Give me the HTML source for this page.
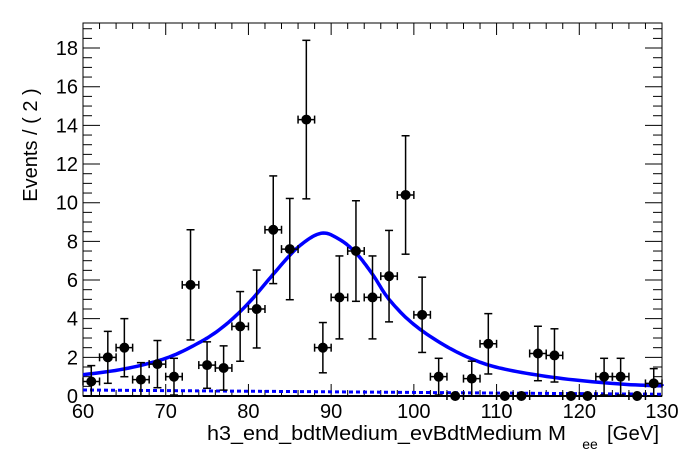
<!DOCTYPE html>
<html><head><meta charset="utf-8"><style>
html,body{margin:0;padding:0;background:#fff;}
svg{display:block;font-family:"Liberation Sans",Arial,sans-serif;}
</style></head><body>
<svg id="s" width="696" height="472" viewBox="0 0 696 472" xmlns="http://www.w3.org/2000/svg"></svg>
<script>
const s=document.getElementById('s');
const L=83,R=662,T=23,B=396;
const X=v=>L+(v-60)*(R-L)/70, Y=v=>B-v*19.33;
let h='';
h+=`<rect x="${L}" y="${T}" width="${R-L}" height="${B-T}" fill="none" stroke="#000" stroke-width="1"/>`;
h+=`<line x1="${L}" y1="${B}" x2="${R}" y2="${B}" stroke="#000" stroke-width="2"/>`;
for(let v=60;v<=130;v+=2){const x=X(v);const len=(v%10==0)?12:6;
h+=`<line x1="${x}" y1="${B}" x2="${x}" y2="${B-len}" stroke="#000"/>`;
h+=`<line x1="${x}" y1="${T}" x2="${x}" y2="${T+len}" stroke="#000"/>`;}
for(let v=60;v<=130;v+=10){h+=`<text x="${X(v)}" y="418" font-size="20" text-anchor="middle">${v}</text>`;}
for(let v=0;v<=19.3;v+=0.5){const y=Y(v);const len=(Math.abs(v%2)<1e-6)?17:9;
h+=`<line x1="${L}" y1="${y}" x2="${L+len}" y2="${y}" stroke="#000"/>`;
h+=`<line x1="${R}" y1="${y}" x2="${R-len}" y2="${y}" stroke="#000"/>`;}
for(let v=0;v<=18;v+=2){h+=`<text x="${L-5}" y="${Y(v)+7}" font-size="20" text-anchor="end">${v}</text>`;}
h+=`<text transform="translate(37,145) rotate(-90)" font-size="20" text-anchor="middle">Events / ( 2 )</text>`;
h+=`<text x="207" y="440" font-size="20" textLength="359" lengthAdjust="spacingAndGlyphs">h3_end_bdtMedium_evBdtMedium  M</text>`;
h+=`<text x="590" y="449" font-size="14" text-anchor="middle">ee</text>`;
h+=`<text x="607" y="440" font-size="20" textLength="52" lengthAdjust="spacingAndGlyphs">[GeV]</text>`;
h+=`<line x1="${L}" y1="${Y(0.31)}" x2="${R}" y2="${Y(0.09)}" stroke="#00f" stroke-width="3" stroke-dasharray="4,3"/>`;
const pts=[[60,1.1],[65,1.4],[70,1.95],[74,2.75],[77,3.6],[80,4.8],[83,6.3],[86,7.7],[88.8,8.42],[91,8.1],[93,7.4],[95,6.3],[97,5.0],[100,3.7],[104,2.55],[108,1.75],[112,1.3],[118,0.9],[125,0.62],[130,0.52]];
let d='';
for(let i=0;i<pts.length-1;i++){const p0=pts[Math.max(0,i-1)],p1=pts[i],p2=pts[i+1],p3=pts[Math.min(pts.length-1,i+2)];
for(let t=0;t<1;t+=0.1){const t2=t*t,t3=t2*t;
const f=(a,b,c,e)=>0.5*((2*b)+(-a+c)*t+(2*a-5*b+4*c-e)*t2+(-a+3*b-3*c+e)*t3);
d+=(d?'L':'M')+X(f(p0[0],p1[0],p2[0],p3[0])).toFixed(1)+','+Y(f(p0[1],p1[1],p2[1],p3[1])).toFixed(1);}}
d+='L'+X(130)+','+Y(0.52);
h+=`<path d="${d}" fill="none" stroke="#00f" stroke-width="3.5"/>`;
const data=[0.75,2.0,2.5,0.85,1.65,1.0,5.75,1.6,1.45,3.6,4.5,8.6,7.6,14.3,2.5,5.1,7.5,5.1,6.2,10.4,4.2,1.0,0,0.9,2.7,0,0,2.2,2.1,0,0,1.0,1.0,0,0.65];
const ov={6:2.85,13:4.1,14:1.3};
data.forEach((n,i)=>{const xc=61+2*i;const x=X(xc),y=Y(n);
const x1=X(xc-1),x2=X(xc+1);
h+=`<line x1="${x1}" y1="${y}" x2="${x2}" y2="${y}" stroke="#000" stroke-width="1.5"/>`;
h+=`<line x1="${x1}" y1="${y-4}" x2="${x1}" y2="${y+4}" stroke="#000" stroke-width="1.5"/><line x1="${x2}" y1="${y-4}" x2="${x2}" y2="${y+4}" stroke="#000" stroke-width="1.5"/>`;
if(n>0){const e=ov[i]||Math.sqrt(n)*0.95;const up=Y(n+e),lo=Y(Math.max(0,n-e));
h+=`<line x1="${x}" y1="${up}" x2="${x}" y2="${lo}" stroke="#000" stroke-width="1.5"/>`;
h+=`<line x1="${x-4}" y1="${up}" x2="${x+4}" y2="${up}" stroke="#000" stroke-width="1.5"/><line x1="${x-4}" y1="${lo}" x2="${x+4}" y2="${lo}" stroke="#000" stroke-width="1.5"/>`;}
h+=`<circle cx="${x}" cy="${y}" r="5" fill="#000"/>`;});
s.innerHTML=h;
</script>
</body></html>
